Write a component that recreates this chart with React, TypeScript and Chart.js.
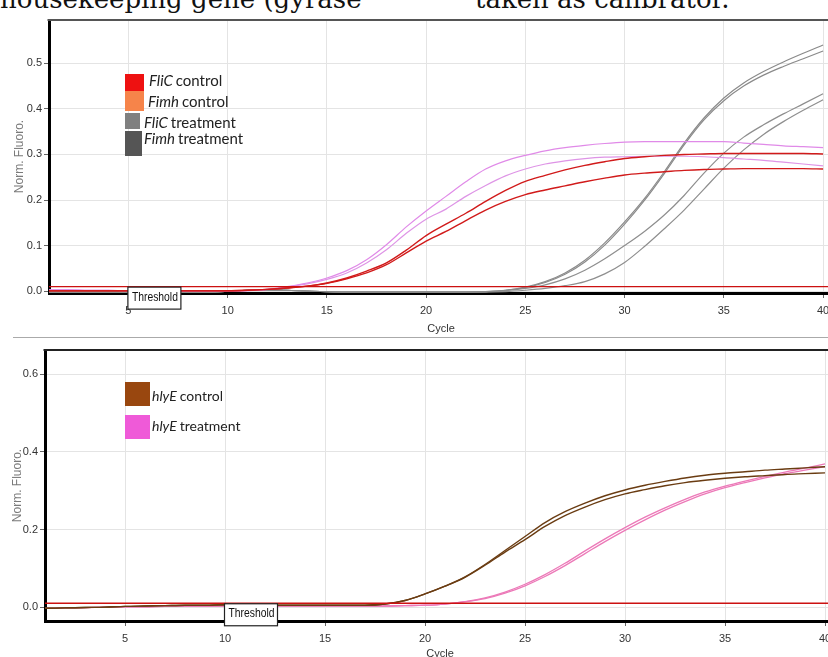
import React, { useEffect, useRef } from 'react';
import { Chart, registerables } from 'chart.js';

Chart.register(...registerables);

// ---------------- data ----------------
const cycles = [1, 2, 3, 4, 5, 6, 7, 8, 9, 10, 11, 12, 13, 14, 15, 16, 17, 18, 19, 20,
  21, 22, 23, 24, 25, 26, 27, 28, 29, 30, 31, 32, 33, 34, 35, 36, 37, 38, 39, 40];
const xTicks = [5, 10, 15, 20, 25, 30, 35, 40];
const xMin = 1;
const xMax = 40.5;

// top panel
const topYTicks = [0, 0.1, 0.2, 0.3, 0.4, 0.5];
const topThreshold = 0.01;
const fliCControlA = [0.001, 0.001, 0.001, 0.001, 0.001, 0.001, 0.001, 0.001, 0.001, 0.001,
  0.002, 0.004, 0.007, 0.011, 0.018, 0.029, 0.044, 0.062, 0.09, 0.122,
  0.147, 0.171, 0.197, 0.221, 0.241, 0.254, 0.266, 0.276, 0.284, 0.291,
  0.295, 0.298, 0.3, 0.301, 0.302, 0.302, 0.302, 0.302, 0.302, 0.301];
const fliCControlB = [0.001, 0.001, 0.001, 0.001, 0.001, 0.001, 0.001, 0.001, 0.001, 0.001,
  0.002, 0.004, 0.007, 0.011, 0.017, 0.027, 0.04, 0.058, 0.084, 0.11,
  0.131, 0.155, 0.178, 0.197, 0.212, 0.222, 0.231, 0.24, 0.248, 0.255,
  0.259, 0.262, 0.265, 0.267, 0.268, 0.269, 0.269, 0.269, 0.269, 0.268];
const fimhControlA = [0.003, 0.003, 0.002, 0.002, 0.001, 0.0, 0.0, 0.0, 0.0, 0.0,
  0.001, 0.004, 0.01, 0.018, 0.029, 0.045, 0.069, 0.102, 0.141, 0.176,
  0.208, 0.24, 0.268, 0.286, 0.298, 0.308, 0.315, 0.32, 0.324, 0.327,
  0.328, 0.328, 0.328, 0.328, 0.328, 0.325, 0.322, 0.319, 0.317, 0.315];
const fimhControlB = [0.003, 0.003, 0.002, 0.002, 0.001, 0.0, 0.0, 0.0, 0.0, 0.0,
  0.001, 0.004, 0.009, 0.016, 0.026, 0.04, 0.062, 0.091, 0.127, 0.158,
  0.18, 0.208, 0.232, 0.253, 0.268, 0.279, 0.286, 0.291, 0.294, 0.295,
  0.296, 0.296, 0.296, 0.295, 0.293, 0.29, 0.287, 0.283, 0.279, 0.275];
const fliCTreatA = [-0.002, -0.002, -0.002, -0.002, -0.002, -0.002, -0.002, -0.002, -0.002, 0.0,
  0.002, 0.003, 0.002, 0.0, -0.001, -0.002, -0.002, -0.002, -0.002, -0.002,
  -0.002, -0.002, -0.001, 0.002, 0.009, 0.021, 0.04, 0.068, 0.106, 0.152,
  0.203, 0.262, 0.325, 0.38, 0.424, 0.457, 0.482, 0.503, 0.522, 0.54];
const fliCTreatB = [-0.002, -0.002, -0.002, -0.002, -0.002, -0.002, -0.002, -0.002, -0.002, 0.0,
  0.002, 0.003, 0.002, 0.0, -0.001, -0.002, -0.002, -0.002, -0.002, -0.002,
  -0.002, -0.002, -0.001, 0.002, 0.008, 0.019, 0.037, 0.064, 0.101, 0.147,
  0.199, 0.258, 0.321, 0.376, 0.418, 0.45, 0.474, 0.493, 0.51, 0.527];
const fimhTreatA = [-0.002, -0.002, -0.002, -0.002, -0.002, -0.002, -0.002, -0.002, -0.002, 0.0,
  0.002, 0.003, 0.002, 0.0, -0.001, -0.002, -0.002, -0.002, -0.002, -0.002,
  -0.002, -0.002, -0.001, 0.001, 0.006, 0.014, 0.027, 0.046, 0.071, 0.1,
  0.131, 0.167, 0.21, 0.259, 0.303, 0.338, 0.365, 0.389, 0.411, 0.433];
const fimhTreatB = [-0.002, -0.002, -0.002, -0.002, -0.002, -0.002, -0.002, -0.002, -0.002, 0.0,
  0.002, 0.003, 0.002, 0.0, -0.001, -0.002, -0.002, -0.002, -0.002, -0.002,
  -0.002, -0.002, -0.002, -0.001, 0.002, 0.006, 0.012, 0.021, 0.038, 0.063,
  0.098, 0.137, 0.178, 0.224, 0.27, 0.31, 0.344, 0.372, 0.397, 0.42];

// bottom panel
const botYTicks = [0, 0.2, 0.4, 0.6];
const botThreshold = 0.01;
const hlyEControlA = [-0.003, -0.002, -0.001, 0.0, 0.002, 0.003, 0.004, 0.005, 0.005, 0.006,
  0.006, 0.005, 0.005, 0.005, 0.005, 0.005, 0.005, 0.008, 0.017, 0.034,
  0.054, 0.078, 0.11, 0.146, 0.182, 0.218, 0.246, 0.268, 0.287, 0.302,
  0.314, 0.324, 0.333, 0.34, 0.345, 0.349, 0.353, 0.356, 0.359, 0.362];
const hlyEControlB = [-0.003, -0.002, -0.001, 0.0, 0.002, 0.003, 0.004, 0.005, 0.005, 0.006,
  0.006, 0.005, 0.005, 0.005, 0.005, 0.005, 0.005, 0.008, 0.017, 0.034,
  0.054, 0.077, 0.108, 0.142, 0.174, 0.208, 0.236, 0.258, 0.277, 0.292,
  0.303, 0.313, 0.321, 0.327, 0.332, 0.336, 0.339, 0.342, 0.344, 0.346];
const hlyETreatA = [-0.003, -0.002, -0.001, 0.0, 0.001, 0.001, 0.002, 0.002, 0.002, 0.003,
  0.003, 0.003, 0.003, 0.003, 0.003, 0.003, 0.003, 0.003, 0.004, 0.005,
  0.008, 0.014, 0.024, 0.039, 0.059, 0.084, 0.113, 0.145, 0.176, 0.205,
  0.232, 0.256, 0.278, 0.297, 0.312, 0.325, 0.337, 0.348, 0.358, 0.369];
const hlyETreatB = [-0.003, -0.002, -0.001, 0.0, 0.001, 0.001, 0.002, 0.002, 0.002, 0.003,
  0.003, 0.003, 0.003, 0.003, 0.003, 0.003, 0.003, 0.003, 0.004, 0.005,
  0.008, 0.014, 0.022, 0.036, 0.055, 0.079, 0.107, 0.138, 0.169, 0.198,
  0.225, 0.25, 0.272, 0.292, 0.308, 0.321, 0.333, 0.344, 0.353, 0.362];

// ---------------- helpers ----------------
const NARROW = '"Liberation Sans Narrow", "Liberation Sans", Arial, sans-serif';
const LEGEND_FONT = 'Lato, "Open Sans", sans-serif';

const pts = (vals: number[]) => cycles.map((c, i) => ({ x: c, y: vals[i] }));

const curve = (vals: number[], color: string, width = 1.2) => ({
  data: pts(vals),
  borderColor: color,
  backgroundColor: color,
  borderWidth: width,
  pointRadius: 0,
  cubicInterpolationMode: 'monotone' as const,
  fill: false,
});

const thresholdSet = (t: number) => ({
  data: [{ x: xMin, y: t }, { x: xMax, y: t }],
  borderColor: '#cc1111',
  borderWidth: 1.4,
  pointRadius: 0,
  fill: false,
});

const decorPlugin = {
  id: 'decor',
  afterDraw(chart: any, _args: any, opts: any) {
    const { ctx, chartArea, scales } = chart;
    ctx.save();
    // top frame line
    ctx.strokeStyle = opts.frameColor;
    ctx.lineWidth = 2;
    ctx.beginPath();
    ctx.moveTo(chartArea.left - 1.5, chartArea.top);
    ctx.lineTo(chartArea.right, chartArea.top);
    ctx.stroke();

    // legend
    for (const it of opts.legend) {
      ctx.fillStyle = it.color;
      ctx.fillRect(chartArea.left + it.dx, chartArea.top + it.dy, it.w, it.h);
      let x = chartArea.left + it.tx;
      const y = chartArea.top + it.ty;
      ctx.textBaseline = 'middle';
      ctx.textAlign = 'left';
      ctx.fillStyle = '#222';
      ctx.font = 'italic ' + opts.legendSize + 'px ' + LEGEND_FONT;
      ctx.fillText(it.gene, x, y);
      x += ctx.measureText(it.gene).width + 3;
      ctx.font = opts.legendSize + 'px ' + LEGEND_FONT;
      ctx.fillText(it.label, x, y);
    }

    // threshold label box
    const bx = scales.x.getPixelForValue(opts.thresholdAt) - 0.5;
    const by = scales.y.getPixelForValue(opts.threshold) + 0.5;
    const bw = 53;
    const bh = 22;
    ctx.fillStyle = '#fff';
    ctx.fillRect(bx, by, bw, bh);
    ctx.strokeStyle = '#222';
    ctx.lineWidth = 1.2;
    ctx.strokeRect(bx, by, bw, bh);
    ctx.fillStyle = '#111';
    ctx.font = '13px "Liberation Sans", Arial, sans-serif';
    ctx.textBaseline = 'middle';
    ctx.textAlign = 'left';
    ctx.fillText('Threshold', bx + 4, by + bh / 2 - 1, 46);
    ctx.restore();
  },
};

function buildConfig(p: {
  datasets: any[];
  yMin: number;
  yMax: number;
  yTicks: number[];
  yAxisWidth: number;
  xAxisHeight: number;
  padTop: number;
  padRight: number;
  yTitlePad: number;
  xTitlePad: number;
  decor: any;
}) {
  return {
    type: 'line' as const,
    data: { datasets: p.datasets },
    plugins: [decorPlugin],
    options: {
      animation: false as const,
      responsive: false,
      devicePixelRatio: 1,
      layout: { padding: { top: p.padTop, right: p.padRight, left: 0, bottom: 0 } },
      plugins: {
        legend: { display: false },
        tooltip: { enabled: false },
        decor: p.decor,
      },
      scales: {
        x: {
          type: 'linear' as const,
          min: xMin,
          max: xMax,
          afterBuildTicks: (s: any) => {
            s.ticks = xTicks.map((v) => ({ value: v }));
          },
          afterFit: (s: any) => {
            s.height = p.xAxisHeight;
          },
          ticks: {
            color: '#333',
            font: { family: NARROW, size: 11 },
            padding: 6,
            maxRotation: 0,
            autoSkip: false,
            callback: (v: any) => String(v),
          },
          grid: { color: '#e4e4e4', lineWidth: 1, tickColor: '#666', tickLength: 5 },
          border: { color: '#000', width: 3 },
          title: {
            display: true,
            text: 'Cycle',
            color: '#333',
            font: { family: NARROW, size: 11 },
            padding: { top: 0, bottom: p.xTitlePad },
          },
        },
        y: {
          type: 'linear' as const,
          min: p.yMin,
          max: p.yMax,
          afterBuildTicks: (s: any) => {
            s.ticks = p.yTicks.map((v) => ({ value: v }));
          },
          afterFit: (s: any) => {
            s.width = p.yAxisWidth;
          },
          ticks: {
            color: '#333',
            font: { family: NARROW, size: 11 },
            padding: 2,
            autoSkip: false,
            callback: (v: any) => Number(v).toFixed(1),
          },
          grid: { color: '#e4e4e4', lineWidth: 1, tickColor: '#666', tickLength: 5 },
          border: { color: '#000', width: 3 },
          title: {
            display: true,
            text: 'Norm. Fluoro.',
            color: '#7a7a7a',
            font: { family: NARROW, size: 12 },
            padding: { top: p.yTitlePad, bottom: 0 },
          },
        },
      },
    },
  };
}

export default function App() {
  const topRef = useRef<HTMLCanvasElement>(null);
  const botRef = useRef<HTMLCanvasElement>(null);

  useEffect(() => {
    const top = new Chart(
      topRef.current as HTMLCanvasElement,
      buildConfig({
        datasets: [
          thresholdSet(topThreshold),
          curve(fliCControlA, '#d11a1a', 1.4),
          curve(fliCControlB, '#d11a1a', 1.4),
          curve(fimhControlA, '#e08ae8'),
          curve(fimhControlB, '#de94e6'),
          curve(fliCTreatA, '#8a8a8a'),
          curve(fliCTreatB, '#8a8a8a'),
          curve(fimhTreatA, '#8e8e8e'),
          curve(fimhTreatB, '#8e8e8e'),
        ],
        yMin: -0.004,
        yMax: 0.595,
        yTicks: topYTicks,
        yAxisWidth: 49,
        xAxisHeight: 47,
        padTop: 20,
        padRight: 7,
        yTitlePad: 12,
        xTitlePad: 4,
        decor: {
          frameColor: '#555',
          threshold: topThreshold,
          thresholdAt: 5,
          legendSize: 15,
          legend: [
            { color: '#ee1111', dx: 76, dy: 54, w: 19, h: 17, tx: 100, ty: 61, gene: 'FliC', label: 'control' },
            { color: '#f6844a', dx: 76, dy: 71, w: 19, h: 20, tx: 99, ty: 82, gene: 'Fimh', label: 'control' },
            { color: '#808080', dx: 76, dy: 93, w: 15, h: 16, tx: 95, ty: 103, gene: 'FliC', label: 'treatment' },
            { color: '#555555', dx: 76, dy: 111, w: 17, h: 25, tx: 95, ty: 119, gene: 'Fimh', label: 'treatment' },
          ],
        },
      }) as any
    );
    const bot = new Chart(
      botRef.current as HTMLCanvasElement,
      buildConfig({
        datasets: [
          thresholdSet(botThreshold),
          curve(hlyEControlA, '#6a3c12', 1.4),
          curve(hlyEControlB, '#6a3c12', 1.4),
          curve(hlyETreatA, '#ec79b8', 1.3),
          curve(hlyETreatB, '#ec79b8', 1.3),
        ],
        yMin: -0.0357,
        yMax: 0.6627,
        yTicks: botYTicks,
        yAxisWidth: 45,
        xAxisHeight: 46,
        padTop: 10,
        padRight: 5,
        yTitlePad: 10,
        xTitlePad: 6,
        decor: {
          frameColor: '#222',
          threshold: botThreshold,
          thresholdAt: 10,
          legendSize: 14,
          legend: [
            { color: '#99470f', dx: 80, dy: 32, w: 25, h: 24, tx: 107, ty: 46, gene: 'hlyE', label: 'control' },
            { color: '#ef5ad8', dx: 80, dy: 65, w: 25, h: 24, tx: 107, ty: 76, gene: 'hlyE', label: 'treatment' },
          ],
        },
      }) as any
    );
    return () => {
      top.destroy();
      bot.destroy();
    };
  }, []);

  const serif: React.CSSProperties = {
    position: 'absolute',
    top: -14,
    fontFamily: '"DejaVu Serif", serif',
    fontSize: 26,
    lineHeight: '26px',
    whiteSpace: 'nowrap',
    color: '#111',
  };

  return (
    <div style={{ position: 'absolute', left: 0, top: 0, width: 828, height: 657, overflow: 'hidden', background: '#fff' }}>
      <div style={{ ...serif, left: 0 }}>housekeeping gene (gyrase</div>
      <div style={{ ...serif, left: 475 }}>taken as calibrator.</div>
      <div style={{ position: 'absolute', left: 0, top: 0, width: 840, height: 340 }}>
        <canvas ref={topRef} width={840} height={340} style={{ display: 'block' }} />
      </div>
      <div style={{ position: 'absolute', left: 0, top: 340, width: 840, height: 327 }}>
        <canvas ref={botRef} width={840} height={327} style={{ display: 'block' }} />
      </div>
      <div style={{ position: 'absolute', left: 13, top: 337, width: 830, height: 1, background: '#aaa' }} />
    </div>
  );
}
